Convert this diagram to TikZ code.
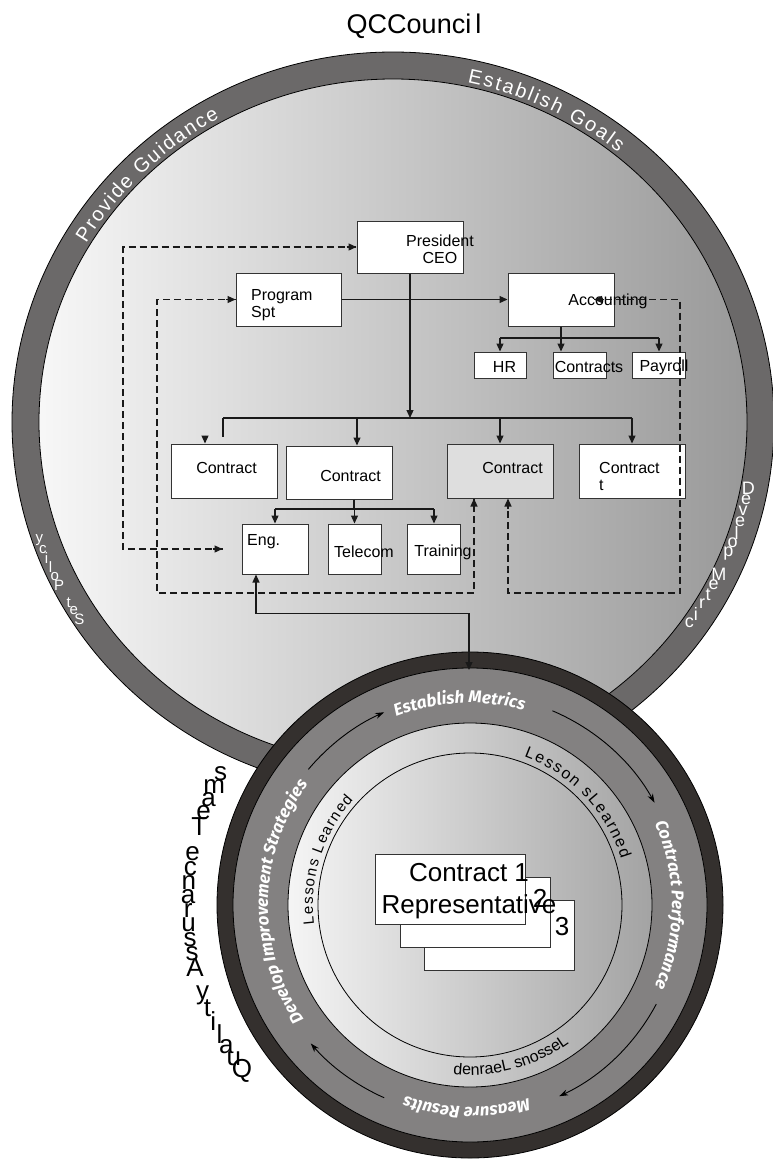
\documentclass[tikz,border=0pt]{standalone}
\usepackage{fontspec}
\setmainfont{Liberation Sans}
\newfontfamily\ringfont{Fira Sans}
\usepackage{xcolor}
\usepackage{tikz}
\usetikzlibrary{arrows.meta,decorations.text}
\definecolor{bandgray}{HTML}{6B6969}
\definecolor{ringdark}{HTML}{34302E}
\definecolor{ringgray}{HTML}{838181}
\definecolor{boxgray}{HTML}{DEDEDE}
\tikzset{
  bx_w/.style = {rectangle, draw=black!80, fill=white, line width=1pt, inner sep=0pt},% white box
  bx_g/.style = {bx_w, fill=boxgray},% grey box
  bx_s/.style = {bx_w, minimum width=150pt, minimum height=70pt},% stacked card
  tx_n/.style = {font=\fontsize{16}{17}\selectfont, inner sep=0pt},% box text
  tx_b/.style = {font=\fontsize{26}{32}\selectfont, inner sep=0pt},% card text
  tx_w/.style = {font=\fontsize{18}{18}\selectfont, text=white, inner sep=0pt},% band letter
  tx_p/.style = {font=\fontsize{15}{15}\selectfont, text=white, inner sep=0pt},% small band letter
  tx_q/.style = {font=\fontsize{26}{26}\selectfont, inner sep=0pt},% team letter
  ln_s/.style = {draw=black!90, line width=1.2pt},% solid connector
  ln_d/.style = {ln_s, dash pattern=on 7pt off 4pt},% dashed connector
  ln_a/.style = {draw=black, line width=0.9pt, >={Stealth[length=9pt,width=6pt]}}% ring arrow
}

\begin{document}
\begin{tikzpicture}[x=1pt, y=1pt, >={Triangle[length=8pt,width=7pt]}]
\useasboundingbox (0,-1159) rectangle (772,0);
\coordinate (bc) at (393,-422);
\coordinate (lc) at (470,-905);

% council ring
\draw[fill=bandgray, draw=black, line width=0.8pt] (bc) ellipse [x radius=381, y radius=370];
\shade[left color=white!97!black, right color=black!40] (bc) ellipse [x radius=354, y radius=343];
\draw[black, line width=0.8pt] (bc) ellipse [x radius=354, y radius=343];

\path[decorate, decoration={text along path, text align=fit to path, text color=white,
    text={|\fontsize{20}{20}\selectfont|Provide Guidance}}]
  ([shift={(149:358 and 347)}]bc) arc[start angle=149, end angle=119, x radius=358, y radius=347];
\path[decorate, decoration={text along path, text align=fit to path, text color=white,
    text={|\fontsize{20}{20}\selectfont|Establish Goals}}]
  ([shift={(78:358 and 347)}]bc) arc[start angle=78, end angle=51, x radius=358, y radius=347];

\node [tx_w] (dm0) at (748.3,-488.8) {D};
\node [tx_w] (dm1) at (746.0,-499.8) {e};
\node [tx_w] (dm2) at (743.2,-510.8) {v};
\node [tx_w] (dm3) at (740.0,-521.7) {e};
\node [tx_w] (dm4) at (736.5,-532.5) {l};
\node [tx_w] (dm5) at (732.6,-543.1) {o};
\node [tx_w] (dm6) at (728.4,-553.7) {p};
\node [tx_w] (dm8) at (718.9,-574.3) {M};
\node [tx_w] (dm9) at (713.7,-584.4) {e};
\node [tx_w] (dm10) at (708.1,-594.3) {t};
\node [tx_w] (dm11) at (702.1,-604.1) {r};
\node [tx_w] (dm12) at (695.9,-613.7) {i};
\node [tx_w] (dm13) at (689.4,-623.0) {c};

\node [tx_p] (sp0) at (79.3,-619.1) {S};
\node [tx_p] (sp1) at (73.9,-610.8) {e};
\node [tx_p] (sp2) at (68.7,-602.4) {t};
\node [tx_p] (sp4) at (59.1,-585.1) {P};
\node [tx_p] (sp5) at (54.7,-576.2) {o};
\node [tx_p] (sp6) at (50.5,-567.3) {l};
\node [tx_p] (sp7) at (46.5,-558.3) {i};
\node [tx_p] (sp8) at (42.8,-549.1) {c};
\node [tx_p] (sp9) at (39.4,-539.9) {y};

% org chart
\node [bx_w, minimum width=106pt, minimum height=52pt] (pres) at (410,-247) {};
\node [bx_w, minimum width=105pt, minimum height=53pt] (prog) at (288.5,-299.5) {};
\node [bx_w, minimum width=106pt, minimum height=53pt] (acct) at (561,-299.5) {};
\node [bx_w, minimum width=52pt, minimum height=26pt] (hr) at (500,-365) {};
\node [bx_w, minimum width=53pt, minimum height=26pt] (ctrs) at (579.5,-365) {};
\node [bx_w, minimum width=53pt, minimum height=26pt] (pay) at (658.5,-365) {};
\node [bx_w, minimum width=106pt, minimum height=54pt] (c1) at (224,-471) {};
\node [bx_w, minimum width=106pt, minimum height=53pt] (c2) at (339,-472.5) {};
\node [bx_g, minimum width=106pt, minimum height=54pt] (c3) at (500,-471) {};
\node [bx_w, minimum width=106pt, minimum height=54pt] (c4) at (632,-471) {};
\node [bx_w, minimum width=66pt, minimum height=50pt] (eng) at (275,-549) {};
\node [bx_w, minimum width=53pt, minimum height=50pt] (tel) at (354.5,-549) {};
\node [bx_w, minimum width=53pt, minimum height=50pt] (trn) at (433.5,-549) {};

\node [tx_n, align=center] (pres_t) at (440,-249.5) {President\\CEO};
\node [tx_n, align=left, anchor=west] (prog_t) at (251,-305) {Program\\Spt};
\node [tx_n] (acct_t) at (608,-301) {Accounting};
\node [tx_n] (hr_t) at (504.5,-367) {HR};
\node [tx_n] (ctrs_t) at (589,-367) {Contracts};
\node [tx_n] (pay_t) at (664,-367) {Payroll};
\node [tx_n] (c1_t) at (226.5,-468) {Contract};
\node [tx_n] (c2_t) at (350.5,-476) {Contract};
\node [tx_n] (c3_t) at (512.5,-468) {Contract};
\node [tx_n, align=left, anchor=west] (c4_t) at (599,-476.5) {Contract\\t};
\node [tx_n, anchor=west] (eng_t) at (247,-542) {Eng.};
\node [tx_n] (tel_t) at (364,-552) {Telecom};
\node [tx_n] (trn_t) at (443,-552) {Training};

\coordinate (br_l) at (223,-418);
\coordinate (br_r) at (632,-418);
\coordinate (bs_l) at (275,-509);
\coordinate (bs_r) at (434,-509);
\coordinate (ba_l) at (500,-338);
\coordinate (ba_r) at (659,-338);
\coordinate (d_l1) at (123,-549);
\coordinate (d_l2) at (157,-593);
\coordinate (d_rt) at (680,-299.5);
\coordinate (d_r) at (680,-593);
\coordinate (lc_top) at (469,-670);

\draw [ln_s,->] (pres.south) -- (pres.south |- br_l);
\draw [ln_s] (br_l) -- (br_r);
\draw [ln_s] (br_l) -- ++(0,-19);
\draw [ln_s,->] ([xshift=-19pt,yshift=8pt]c1.north) -- ([xshift=-19pt]c1.north);
\draw [ln_s,->] ([xshift=18pt]c2.north |- br_l) -- ([xshift=18pt]c2.north);
\draw [ln_s,->] (c3.north |- br_l) -- (c3.north);
\draw [ln_s,->] (br_r) -- (c4.north);

\draw [ln_s,->] (prog.east) -- (acct.west);
\draw [ln_s] (acct.south) -- (acct.south |- ba_l);
\draw [ln_s] (ba_l) -- (ba_r);
\draw [ln_s,->] (ba_l) -- (hr.north);
\draw [ln_s,->] (acct.south |- ba_l) -- (acct.south |- ctrs.north);
\draw [ln_s,->] (ba_r) -- (ba_r |- pay.north);

\draw [ln_s] ([xshift=15pt]c2.south) -- ([xshift=15pt]c2.south |- bs_l);
\draw [ln_s] (bs_l) -- (bs_r);
\draw [ln_s,->] (bs_l) -- (eng.north);
\draw [ln_s,->] (tel.north |- bs_l) -- (tel.north);
\draw [ln_s,->] (bs_r) -- (bs_r |- trn.north);

% dashed feedback lines, solid tips
\draw [ln_d] ([xshift=-19pt]eng.west) -- (d_l1) |- (pres.west);
\draw [ln_s,->] ([xshift=-10pt]pres.west) -- (pres.west);
\draw [ln_s,->] ([xshift=-29pt]eng.west) -- ([xshift=-19pt]eng.west);
\draw [ln_d] (prog.west) -| (d_l2) -| ([xshift=-26pt]c3.south);
\draw [ln_s,->] ([xshift=-10pt]prog.west) -- (prog.west);
\draw [ln_s,->] ([xshift=-26pt,yshift=-10pt]c3.south) -- ([xshift=-26pt]c3.south);
\draw [ln_d] ([xshift=33pt]acct.center) -- (d_rt) -- (d_r) -| ([xshift=8pt]c3.south);
\draw [ln_s,->] ([xshift=43pt]acct.center) -- ([xshift=33pt]acct.center);
\draw [ln_s,->] ([xshift=8pt,yshift=-10pt]c3.south) -- ([xshift=8pt]c3.south);

% improvement cycle
\draw[fill=ringdark, draw=black, line width=0.8pt] (lc) circle[radius=253];
\draw[fill=ringgray, draw=black, line width=0.8pt] (lc) circle[radius=237];
\shade[left color=white!96!black, right color=black!36] (lc) circle[radius=182];
\draw[black, line width=0.8pt] (lc) circle[radius=182];
\draw[black, line width=0.8pt] (lc) circle[radius=152];

\path[decorate, decoration={text along path, text align=center, text color=white,
    text={|\ringfont\fontsize{17}{17}\selectfont\bfseries\itshape|Establish Metrics}}]
  ([shift={(125:202)}]lc) arc[start angle=125, end angle=61, radius=202];
\path[decorate, decoration={text along path, text align=center, text color=white,
    text={|\ringfont\fontsize{17}{17}\selectfont\bfseries\itshape|Contract Performance}}]
  ([shift={(40:202)}]lc) arc[start angle=40, end angle=-40, radius=202];
\path[decorate, decoration={text along path, text align=center, text color=white,
    text={|\ringfont\fontsize{17}{17}\selectfont\bfseries\itshape|Measure Results}}]
  ([shift={(-55:202)}]lc) arc[start angle=-55, end angle=-127, radius=202];
\path[decorate, decoration={text along path, text align=center, text color=white,
    text={|\ringfont\fontsize{17}{17}\selectfont\bfseries\itshape|Develop Improvement Strategies}}]
  ([shift={(230:202)}]lc) arc[start angle=230, end angle=128, radius=202];

\draw [ln_a,->] ([shift={(140:211)}]lc) arc[start angle=140, end angle=114, radius=211];
\draw [ln_a,->] ([shift={(67:211)}]lc) arc[start angle=67, end angle=29, radius=211];
\draw [ln_a,->] ([shift={(-28:211)}]lc) arc[start angle=-28, end angle=-65, radius=211];
\draw [ln_a,->] ([shift={(-114:211)}]lc) arc[start angle=-114, end angle=-139, radius=211];

\path[decorate, decoration={text along path, text align=fit to path,
    text={|\fontsize{16}{16}\selectfont|Lesson sLearned}}]
  ([shift={(70:158)}]lc) arc[start angle=70, end angle=17, radius=158];
\path[decorate, decoration={text along path, text align=fit to path,
    text={|\fontsize{15}{15}\selectfont|Lessons Learned}}]
  ([shift={(187:157)}]lc) arc[start angle=187, end angle=138, radius=157];
\path[decorate, decoration={text along path, text align=center,
    text={|\fontsize{16}{16}\selectfont|denraeL snosseL}}]
  ([shift={(250:170)}]lc) arc[start angle=250, end angle=320, radius=170];

\node [bx_s] (st3) at (499.5,-935.5) {};
\node [tx_b] (st3_t) at (562,-927) {3};
\node [bx_s] (st2) at (475,-912) {};
\node [tx_b] (st2_t) at (540,-898) {2};
\node [bx_s] (st1) at (450,-889) {};
\node [tx_b, align=center] (st1_t) at (469,-891) {Contract 1\\Representative};

\draw [ln_s,<->] ([xshift=-19pt]eng.south) -- ++(0,-39) -| (lc_top);

% team letters
\node [tx_q] (qa0) at (241.9,-1070.8) {Q};
\node [tx_q] (qa1) at (233.8,-1059.0) {u};
\node [tx_q] (qa2) at (226.3,-1046.8) {a};
\node [tx_q] (qa3) at (219.4,-1034.3) {l};
\node [tx_q] (qa4) at (213.2,-1021.5) {i};
\node [tx_q] (qa5) at (207.6,-1008.4) {t};
\node [tx_q] (qa6) at (202.7,-995.0) {y};
\node [tx_q] (qa8) at (195.0,-967.5) {A};
\node [tx_q] (qa9) at (192.2,-953.5) {s};
\node [tx_q] (qa10) at (190.1,-939.4) {s};
\node [tx_q] (qa11) at (188.7,-925.2) {u};
\node [tx_q] (qa12) at (188.1,-910.9) {r};
\node [tx_q] (qa13) at (188.1,-896.6) {a};
\node [tx_q] (qa14) at (188.9,-882.4) {n};
\node [tx_q] (qa15) at (190.4,-868.2) {c};
\node [tx_q] (qa16) at (192.6,-854.1) {e};
\node [tx_q] (qa18) at (199.2,-826.3) {T};
\node [tx_q] (qa19) at (203.5,-812.7) {e};
\node [tx_q] (qa20) at (208.5,-799.4) {a};
\node [tx_q] (qa21) at (214.2,-786.3) {m};
\node [tx_q] (qa22) at (220.5,-773.5) {s};

\node [font=\fontsize{27}{30}\selectfont, inner sep=0pt] (title) at (414,-26) {QCCounci\hspace{4pt}l};
\end{tikzpicture}
\end{document}
